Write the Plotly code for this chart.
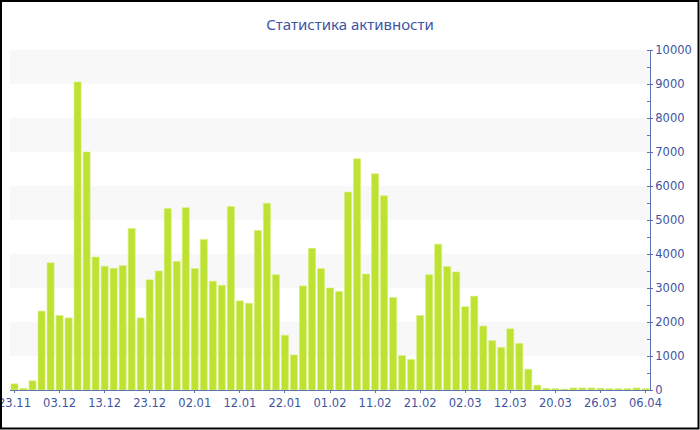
import plotly.graph_objects as go

title_text = "Статистика активности"

values = [180, 50, 270, 2320, 3740, 2190, 2120, 9060, 7000, 3910,
          3640, 3580, 3660, 4750, 2120, 3240, 3500, 5340, 3780, 5360,
          3570, 4430, 3200, 3080, 5400, 2620, 2550, 4690, 5490, 3390,
          1610, 1030, 3060, 4170, 3570, 3000, 2900, 5820, 6800, 3410,
          6360, 5710, 2720, 1010, 900, 2190, 3390, 4290, 3630, 3470,
          2450, 2760, 1880, 1450, 1250, 1800, 1370, 610, 140, 50,
          40, 30, 60, 60, 60, 50, 40, 40, 40, 60,
          40]

tick_labels = ["23.11", "03.12", "13.12", "23.12", "02.01", "12.01", "22.01",
               "01.02", "11.02", "21.02", "02.03", "12.03", "20.03", "26.03", "06.04"]

band_ranges = [(1000, 2000), (3000, 4000), (5000, 6000), (7000, 8000), (9000, 10000)]

x_idx = list(range(len(values)))
tick_step = 5
tick_vals = [i * tick_step for i in range(len(tick_labels))]

axis_color = "#5f73b3"
text_color = "#3e55a0"
font_family = "DejaVu Sans"

fig = go.Figure()
fig.add_trace(go.Bar(
    x=x_idx, y=values,
    marker=dict(color="#bee232", line=dict(color="#d6ee78", width=0.6)),
    hoverinfo="y",
))

shapes = []
for lo, hi in band_ranges:
    shapes.append(dict(type="rect", xref="paper", yref="y", x0=0, x1=1, y0=lo, y1=hi,
                       fillcolor="#f8f8f8", line=dict(width=0), layer="below"))

# outer frame
W, H = 700, 430
ml, mr, mt, mb = 10, 50, 50, 40
pw, ph = W - ml - mr, H - mt - mb
shapes.append(dict(type="rect", xref="paper", yref="paper",
                   x0=(1 - ml) / pw, x1=(W - 1.5 - ml) / pw,
                   y0=(H - mb - (H - 1.5)) / ph, y1=(H - mb - 1) / ph,
                   line=dict(color="black", width=2), fillcolor="rgba(0,0,0,0)"))

xr = [-0.5, len(values) - 0.5]
yr = [0, 10000]

fig.update_layout(
    width=W, height=H,
    margin=dict(l=ml, r=mr, t=mt, b=mb),
    paper_bgcolor="white", plot_bgcolor="white",
    bargap=0.22,
    showlegend=False,
    title=dict(text=title_text, x=0.5, xref="container", y=1 - 25 / H, yref="container",
               xanchor="center", yanchor="middle",
               font=dict(family="Noto Sans", size=15, color="#3e55a5")),
    font=dict(family=font_family, size=11.5, color=text_color),
    shapes=shapes,
    xaxis=dict(range=xr, tickmode="array", tickvals=tick_vals, ticktext=tick_labels,
               showgrid=False, zeroline=False, showline=True, linecolor=axis_color, linewidth=1,
               ticks="outside", ticklen=2, tickcolor=axis_color, ticklabeloverflow="allow",
               automargin=False,
               tickfont=dict(family=font_family, size=11.5, color=text_color)),
    xaxis2=dict(range=xr, overlaying="x", tickmode="array", tickvals=tick_vals,
                showticklabels=False, showgrid=False, zeroline=False, showline=False,
                ticks="inside", ticklen=2, tickcolor=axis_color, side="bottom", anchor="y"),
    yaxis=dict(range=yr, side="right", dtick=1000, tick0=0, tickformat="d",
               showgrid=False, zeroline=False, showline=True, linecolor=axis_color, linewidth=1,
               ticks="outside", ticklen=2, tickcolor=axis_color, automargin=False,
               ticklabeloverflow="allow",
               minor=dict(dtick=500, ticks="inside", ticklen=3, tickcolor=axis_color, showgrid=False),
               tickfont=dict(family=font_family, size=11.5, color=text_color)),
    yaxis2=dict(range=yr, overlaying="y", side="right", dtick=1000, tick0=0,
                showticklabels=False, showgrid=False, zeroline=False, showline=False,
                ticks="inside", ticklen=3, tickcolor=axis_color, anchor="x"),
)

fig.write_html("out.html", config={"displayModeBar": False},
               post_script="document.body.style.margin='0';document.body.style.overflow='hidden';")
